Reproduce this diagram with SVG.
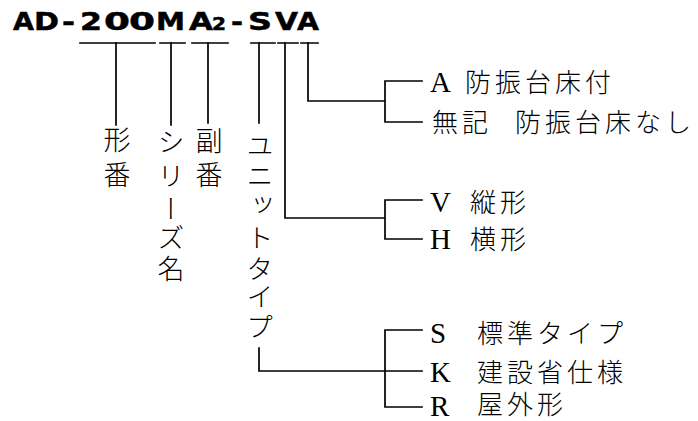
<svg xmlns="http://www.w3.org/2000/svg" width="698" height="421" viewBox="0 0 698 421">
<style>
.title{font-family:"DejaVu Sans","Liberation Sans",sans-serif;font-weight:bold;font-size:24.5px;fill:#000;stroke:#000;stroke-width:0.5}
.sub{font-size:17px}
.vl{font-family:"Noto Sans CJK JP",sans-serif;font-size:27px;fill:#000;writing-mode:vertical-rl;font-weight:300}
.lat{font-family:"Liberation Serif",serif;font-size:29px;fill:#000}
.cjk{font-family:"Noto Sans CJK JP",sans-serif;font-size:26px;letter-spacing:4px;fill:#000;font-weight:300}
.ln{fill:none;stroke:#000;stroke-width:1.7;stroke-linecap:square;stroke-linejoin:miter}
</style>
<rect width="698" height="421" fill="#fff"/>
<g id="title">
<text class="title" x="13" y="30" textLength="21" lengthAdjust="spacingAndGlyphs">A</text>
<text class="title" x="34" y="30" textLength="25" lengthAdjust="spacingAndGlyphs">D</text>
<text class="title" x="62" y="30" textLength="13" lengthAdjust="spacingAndGlyphs">-</text>
<text class="title" x="80" y="30" textLength="22" lengthAdjust="spacingAndGlyphs">2</text>
<text class="title" x="104" y="30" textLength="26" lengthAdjust="spacingAndGlyphs">0</text>
<text class="title" x="129" y="30" textLength="26" lengthAdjust="spacingAndGlyphs">0</text>
<text class="title" x="156" y="30" textLength="29" lengthAdjust="spacingAndGlyphs">M</text>
<text class="title" x="189" y="30" textLength="24" lengthAdjust="spacingAndGlyphs">A</text>
<text class="title sub" x="212" y="30" textLength="14" lengthAdjust="spacingAndGlyphs">2</text>
<text class="title" x="231" y="30" textLength="12" lengthAdjust="spacingAndGlyphs">-</text>
<text class="title" x="248" y="30" textLength="24" lengthAdjust="spacingAndGlyphs">S</text>
<text class="title" x="275" y="30" textLength="23" lengthAdjust="spacingAndGlyphs">V</text>
<text class="title" x="297" y="30" textLength="22" lengthAdjust="spacingAndGlyphs">A</text>
</g>
<g id="connectors">
<path class="ln" d="M80 43H155M160 43H185M192 43H228M251 43H275M278 43H298M301 43H318"/>
<path class="ln" d="M116 43V125M171 43V125M208 43V123M259 43V123"/>
<path class="ln" d="M308 43V101H385M385 81V122M385 81H422M385 122H422"/>
<path class="ln" d="M285 43V218H385M385 200V239M385 200H422M385 239H422"/>
<path class="ln" d="M259 348V371H422M385 330V407M385 330H422M385 407H422"/>
</g>
<g id="label-kataban"><text class="vl" x="117" y="126.5 161.5">形番</text></g>
<g id="label-series"><text class="vl" x="171" y="128.5 162.5 195.5 224.5 255.5">シリーズ名</text></g>
<g id="label-fukuban"><text class="vl" x="209" y="127.5 161.5">副番</text></g>
<g id="label-unit"><text class="vl" x="260" y="132 162 191 224 255 283 313">ユニットタイプ</text></g>
<g id="opt-A"><text class="lat" x="430" y="92">A <tspan class="cjk" x="465" y="92">防振台床付</tspan></text></g>
<g id="opt-none"><text class="cjk" x="432" y="132">無記 <tspan x="515">防振台床なし</tspan></text></g>
<g id="opt-V"><text class="lat" x="430" y="212">V <tspan class="cjk" x="470">縦形</tspan></text></g>
<g id="opt-H"><text class="lat" x="430" y="249">H <tspan class="cjk" x="470">横形</tspan></text></g>
<g id="opt-S"><text class="lat" x="430" y="343">S <tspan class="cjk" x="477">標準タイプ</tspan></text></g>
<g id="opt-K"><text class="lat" x="430" y="382">K <tspan class="cjk" x="477">建設省仕様</tspan></text></g>
<g id="opt-R"><text class="lat" x="430" y="416">R <tspan class="cjk" x="477" y="414">屋外形</tspan></text></g>
</svg>
